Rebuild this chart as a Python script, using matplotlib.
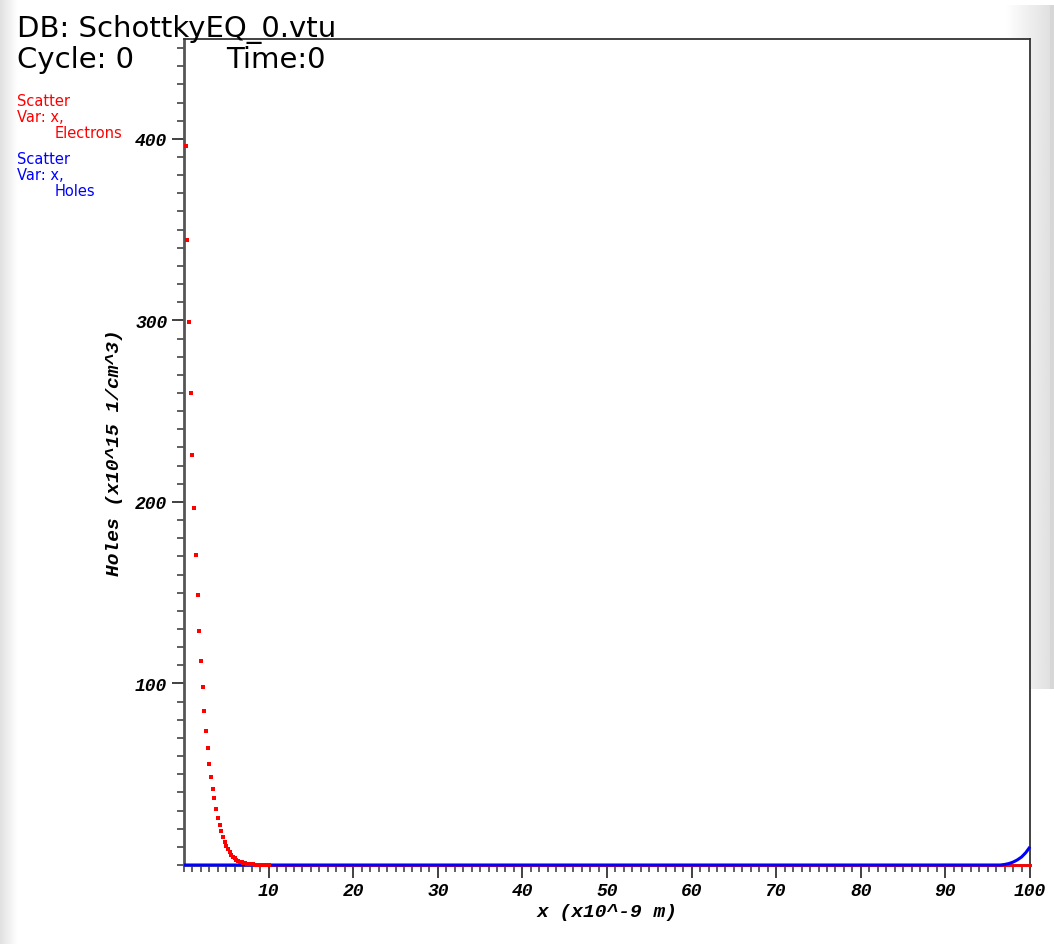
import numpy as np
import matplotlib.pyplot as plt
from matplotlib.ticker import MultipleLocator

# electrons (red scatter)
elec_x = [0.2, 0.4, 0.6, 0.8, 1.0, 1.2, 1.4, 1.6, 1.8, 2.0,
          2.2, 2.4, 2.6, 2.8, 3.0, 3.2, 3.4, 3.6, 3.8, 4.0,
          4.2, 4.4, 4.6, 4.8, 5.0, 5.2, 5.4, 5.6, 5.8, 6.0,
          6.2, 6.4, 6.6, 6.8, 7.0, 7.2, 7.4, 7.6, 7.8, 8.0,
          8.2, 8.4, 8.6, 8.8, 9.0, 9.2, 9.4, 9.6, 9.8, 10.0]
elec_y = [396, 344.5, 299, 260, 226, 196.6, 171, 149, 129, 112.6,
          98, 85, 73.7, 64.4, 55.6, 48.4, 42, 36.7, 30.8, 25.9,
          22, 18.7, 15.4, 12.6, 10.5, 8.6, 7.0, 5.7, 4.6, 3.7,
          3.0, 2.4, 1.9, 1.5, 1.2, 0.95, 0.75, 0.6, 0.47, 0.37,
          0.29, 0.23, 0.18, 0.14, 0.11, 0.08, 0.06, 0.05, 0.04, 0.03]
# flat part of the electrons (zero up to the right contact)
elec_flat_x = [10.0, 100.0]
elec_flat_y = [0.0, 0.0]

# holes (blue), zero until the right contact
hole_x = [0.0, 96.5, 97.0, 97.5, 98.0, 98.5, 99.0, 99.5, 100.0]
hole_y = [0.0, 0.0, 0.3, 0.8, 1.6, 2.8, 4.4, 6.8, 10.0]

x_ticks = [10, 20, 30, 40, 50, 60, 70, 80, 90, 100]
y_ticks = [100, 200, 300, 400]

W, H = 1054, 945
fig = plt.figure(figsize=(W / 100, H / 100), dpi=100)
fig.patch.set_facecolor('white')

# window shading at the left and right edges
bg = fig.add_axes([0, 0, 1, 1], zorder=-10)
bg.set_xlim(0, W)
bg.set_ylim(H, 0)
bg.axis('off')
left_grad = np.linspace(0.88, 1.0, 64).reshape(1, -1)
bg.imshow(left_grad, cmap='gray', vmin=0, vmax=1, extent=[0, 18, H, 0], aspect='auto')
right_grad = np.linspace(1.0, 0.88, 64).reshape(1, -1)
bg.imshow(right_grad, cmap='gray', vmin=0, vmax=1, extent=[1005, 1050, 690, 6], aspect='auto')
bg.imshow([[0.84]], cmap='gray', vmin=0, vmax=1, extent=[1050, 1054, 690, 6], aspect='auto')

ax = fig.add_axes([184 / W, 1 - 866 / H, (1030 - 184) / W, (866 - 40) / H])
ax.plot(elec_flat_x, elec_flat_y, color='red', lw=2.0, zorder=3, clip_on=False)
ax.plot(hole_x, hole_y, color='blue', lw=2.2, zorder=4, clip_on=False,
        solid_capstyle='butt')
ax.plot(elec_x, elec_y, 's', color='red', ms=2.3, mew=0, zorder=5, clip_on=False)

ax.set_xlim(0, 100)
ax.set_ylim(0, 455)
ax.set_xticks(x_ticks)
ax.set_yticks(y_ticks)
ax.xaxis.set_minor_locator(MultipleLocator(1))
ax.yaxis.set_minor_locator(MultipleLocator(10))

for lab in ax.get_xticklabels() + ax.get_yticklabels():
    lab.set_fontfamily('Liberation Mono')
    lab.set_fontweight('bold')
    lab.set_fontstyle('italic')
    lab.set_fontsize(13)

ax.tick_params(axis='both', which='major', direction='out', length=9, width=1.3,
               color='#333333', pad=3)
ax.tick_params(axis='both', which='minor', direction='out', length=5, width=1.2,
               color='#444444')

for side in ['left', 'bottom']:
    ax.spines[side].set_linewidth(2.0)
    ax.spines[side].set_color('#555555')
for side in ['top', 'right']:
    ax.spines[side].set_linewidth(1.3)
    ax.spines[side].set_color('#333333')

label_font = dict(family='Liberation Mono', weight='bold', style='italic', size=14)
ax.set_xlabel('x (x10^-9 m)', fontdict=label_font, labelpad=3)
ax.set_ylabel('Holes (x10^15 1/cm^3)', fontdict=label_font, labelpad=9)

# header text
fig.text(17 / W, 1 - 37 / H, 'DB: SchottkyEQ_0.vtu', fontsize=21,
         family='DejaVu Sans', va='baseline', ha='left', color='black')
fig.text(17 / W, 1 - 68 / H, 'Cycle: 0', fontsize=21,
         family='DejaVu Sans', va='baseline', ha='left', color='black')
fig.text(226 / W, 1 - 68 / H, 'Time:0', fontsize=21,
         family='DejaVu Sans', va='baseline', ha='left', color='black')

# legend text
leg = [('Scatter', 17, 101, 'red'), ('Var: x,', 17, 117, 'red'),
       ('Electrons', 55, 133, 'red'),
       ('Scatter', 17, 160, 'blue'), ('Var: x,', 17, 176, 'blue'),
       ('Holes', 55, 192, 'blue')]
for txt, px, py, col in leg:
    fig.text(px / W, 1 - py / H, txt, fontsize=10.5, family='DejaVu Sans',
             va='center', ha='left', color=col)

fig.savefig('out.png', dpi=100)
